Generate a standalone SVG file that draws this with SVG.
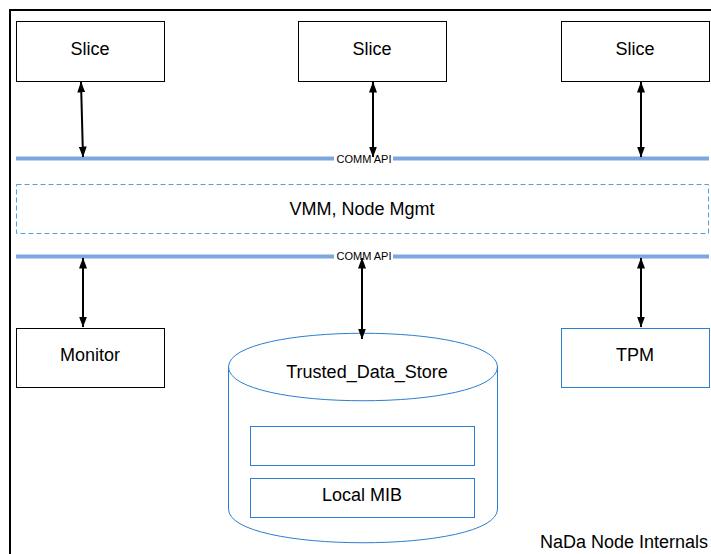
<svg xmlns="http://www.w3.org/2000/svg" width="711" height="554" viewBox="0 0 711 554">
<defs>
<marker id="ah" viewBox="0 0 11 8" refX="10.5" refY="4" markerWidth="11" markerHeight="8" markerUnits="userSpaceOnUse" orient="auto-start-reverse">
<path d="M0,0 L11,4 L0,8 Z" fill="#000"/>
</marker>
</defs>
<style>
.t{font-family:"Liberation Sans",Arial,sans-serif;font-size:18px;fill:#000;text-anchor:middle;dominant-baseline:central}
.box{fill:#fff;stroke:#000;stroke-width:1}
.bbox{fill:#fff;stroke:#2a7fcf;stroke-width:1}
.bus{stroke:#7ea6e0;stroke-width:4;fill:none}
.lbl{font-family:"Liberation Sans",Arial,sans-serif;font-size:11px;fill:#000;text-anchor:middle;dominant-baseline:central}
.arr{stroke:#000;stroke-width:2;fill:none;marker-start:url(#ah);marker-end:url(#ah)}
</style>
<rect x="0" y="0" width="711" height="554" fill="#fff"/>
<g id="frame"><path d="M10,560 L10,10 L720,10" fill="none" stroke="#000" stroke-width="2"/></g>
<g id="slice1"><rect class="box" x="16.5" y="21.5" width="148" height="60"/><text class="t" x="90" y="49">Slice</text></g>
<g id="slice2"><rect class="box" x="298.5" y="21.5" width="148" height="60"/><text class="t" x="372" y="49">Slice</text></g>
<g id="slice3"><rect class="box" x="561.5" y="21.5" width="148" height="60"/><text class="t" x="635" y="49">Slice</text></g>
<g id="vmm"><rect x="16.5" y="184.5" width="692" height="49" fill="none" stroke="#4ea0e0" stroke-width="1" stroke-dasharray="5,3"/><text class="t" x="362" y="209">VMM, Node Mgmt</text></g>
<g id="monitor"><rect class="box" x="16.5" y="328.5" width="148" height="59"/><text class="t" x="90" y="355">Monitor</text></g>
<g id="tpm"><rect class="bbox" x="561.5" y="328.5" width="148" height="59"/><text class="t" x="635" y="355">TPM</text></g>
<g id="store">
<path d="M228.5,367 C228.5,322 497.5,322 497.5,367 L497.5,509 C497.5,554 228.5,554 228.5,509 Z" fill="#fff" stroke="#2a7fcf" stroke-width="1"/>
<path d="M228.5,367 C228.5,412 497.5,412 497.5,367" fill="none" stroke="#2a7fcf" stroke-width="1"/>
<text class="t" x="367" y="372">Trusted_Data_Store</text>
<rect class="bbox" x="250.5" y="426.5" width="224" height="39"/>
<rect class="bbox" x="250.5" y="478.5" width="224" height="39"/>
<text class="t" x="362" y="495">Local MIB</text>
</g>
<g id="connectors">
<path class="bus" d="M16,158.5 H334 M393,158.5 H709"/>
<text class="lbl" x="364" y="158.5">COMM API</text>
<path class="bus" d="M16,256.5 H334 M393,256.5 H709"/>
<text class="lbl" x="364" y="256">COMM API</text>
<line class="arr" x1="81" y1="82" x2="83" y2="157"/>
<line class="arr" x1="373" y1="82" x2="373" y2="157"/>
<line class="arr" x1="641" y1="82" x2="641" y2="157"/>
<line class="arr" x1="83" y1="258" x2="83" y2="327"/>
<line class="arr" x1="362" y1="258" x2="362" y2="339"/>
<line class="arr" x1="641" y1="258" x2="641" y2="327"/>
</g>
<g id="caption"><text x="708" y="542" font-family="'Liberation Sans',Arial,sans-serif" font-size="18" text-anchor="end" dominant-baseline="central">NaDa Node Internals</text></g>
</svg>
